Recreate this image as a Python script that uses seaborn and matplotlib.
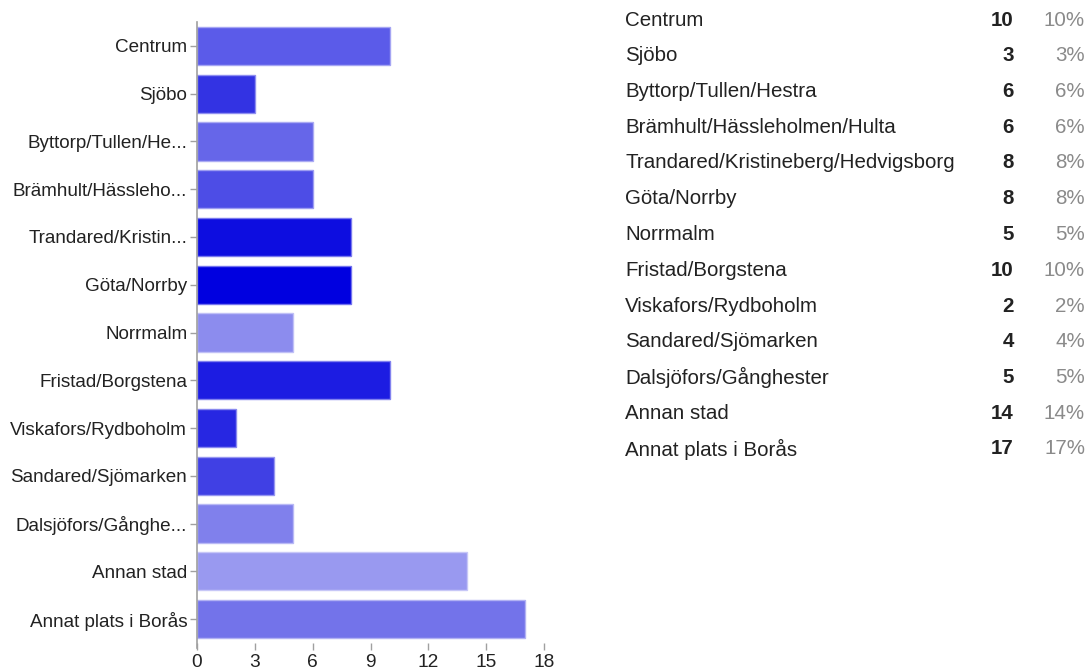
import matplotlib
matplotlib.use("Agg")
import matplotlib.pyplot as plt
import matplotlib.colors as mcolors
import seaborn as sns
import pandas as pd

categories = [
    "Centrum", "Sjöbo", "Byttorp/Tullen/Hestra", "Brämhult/Hässleholmen/Hulta",
    "Trandared/Kristineberg/Hedvigsborg", "Göta/Norrby", "Norrmalm",
    "Fristad/Borgstena", "Viskafors/Rydboholm", "Sandared/Sjömarken",
    "Dalsjöfors/Gånghester", "Annan stad", "Annat plats i Borås",
]
short_labels = [
    "Centrum", "Sjöbo", "Byttorp/Tullen/He...", "Brämhult/Hässleho...",
    "Trandared/Kristin...", "Göta/Norrby", "Norrmalm",
    "Fristad/Borgstena", "Viskafors/Rydboholm", "Sandared/Sjömarken",
    "Dalsjöfors/Gånghe...", "Annan stad", "Annat plats i Borås",
]
counts = [10, 3, 6, 6, 8, 8, 5, 10, 2, 4, 5, 14, 17]
percents = [10, 3, 6, 6, 8, 8, 5, 10, 2, 4, 5, 14, 17]
bar_colors = [
    "#5b5be9", "#3333e3", "#6666e9", "#4d4de6", "#0d0de0", "#0000e0", "#8c8cee",
    "#1c1ce2", "#2727e2", "#4040e4", "#8080ec", "#9999f0", "#7373ea",
]
x_ticks = [0, 3, 6, 9, 12, 15, 18]

sns.set_style("white")
plt.rcParams["font.family"] = ["Liberation Sans", "DejaVu Sans"]

df = pd.DataFrame({"category": categories, "count": counts})

fig = plt.figure(figsize=(10.88, 6.71), dpi=100)
ax = fig.add_axes([197 / 1088, 1 - 643 / 671, (544 - 197) / 1088, (643 - 22) / 671])

sns.barplot(
    data=df, x="count", y="category", hue="category",
    palette=dict(zip(categories, bar_colors)), legend=False,
    orient="h", width=0.8, ax=ax, saturation=1,
)

# soft, lighter outline around each bar
for patch, col in zip(ax.patches, bar_colors):
    rgb = mcolors.to_rgb(col)
    edge = tuple(c + (1 - c) * 0.45 for c in rgb)
    patch.set_edgecolor(edge)
    patch.set_linewidth(1.0)

ax.set_xlim(0, 18)
ax.set_ylim(12.5, -0.5)
ax.set_xticks(x_ticks)
ax.set_xticklabels([str(t) for t in x_ticks])
ax.set_yticks(range(len(categories)))
ax.set_yticklabels(short_labels)
ax.set_xlabel("")
ax.set_ylabel("")

for side in ["top", "right", "bottom"]:
    ax.spines[side].set_visible(False)
ax.spines["left"].set_color("#a0a0a0")
ax.spines["left"].set_linewidth(1.2)
ax.spines["left"].set_bounds(12.6, -0.5)

ax.tick_params(axis="y", length=5, width=1, color="#a0a0a0", pad=2,
               labelsize=13.6, labelcolor="#222222", left=True)
ax.tick_params(axis="x", length=5, width=1, color="#a0a0a0", pad=3,
               labelsize=13.8, labelcolor="#222222", bottom=True, direction="out")

# summary table to the right of the chart
row_top = 20
row_step = 35.75
for i, (name, n, p) in enumerate(zip(categories, counts, percents)):
    y = 1 - (row_top + i * row_step) / 671
    fig.text(625 / 1088, y, name, ha="left", va="center", fontsize=14.8, color="#222222")
    fig.text(1014 / 1088, y, str(n), ha="right", va="center", fontsize=14.8,
             fontweight="bold", color="#222222")
    fig.text(1085 / 1088, y, f"{p}%", ha="right", va="center", fontsize=14.8, color="#8a8a8a")

fig.savefig("out.png", dpi=100)
